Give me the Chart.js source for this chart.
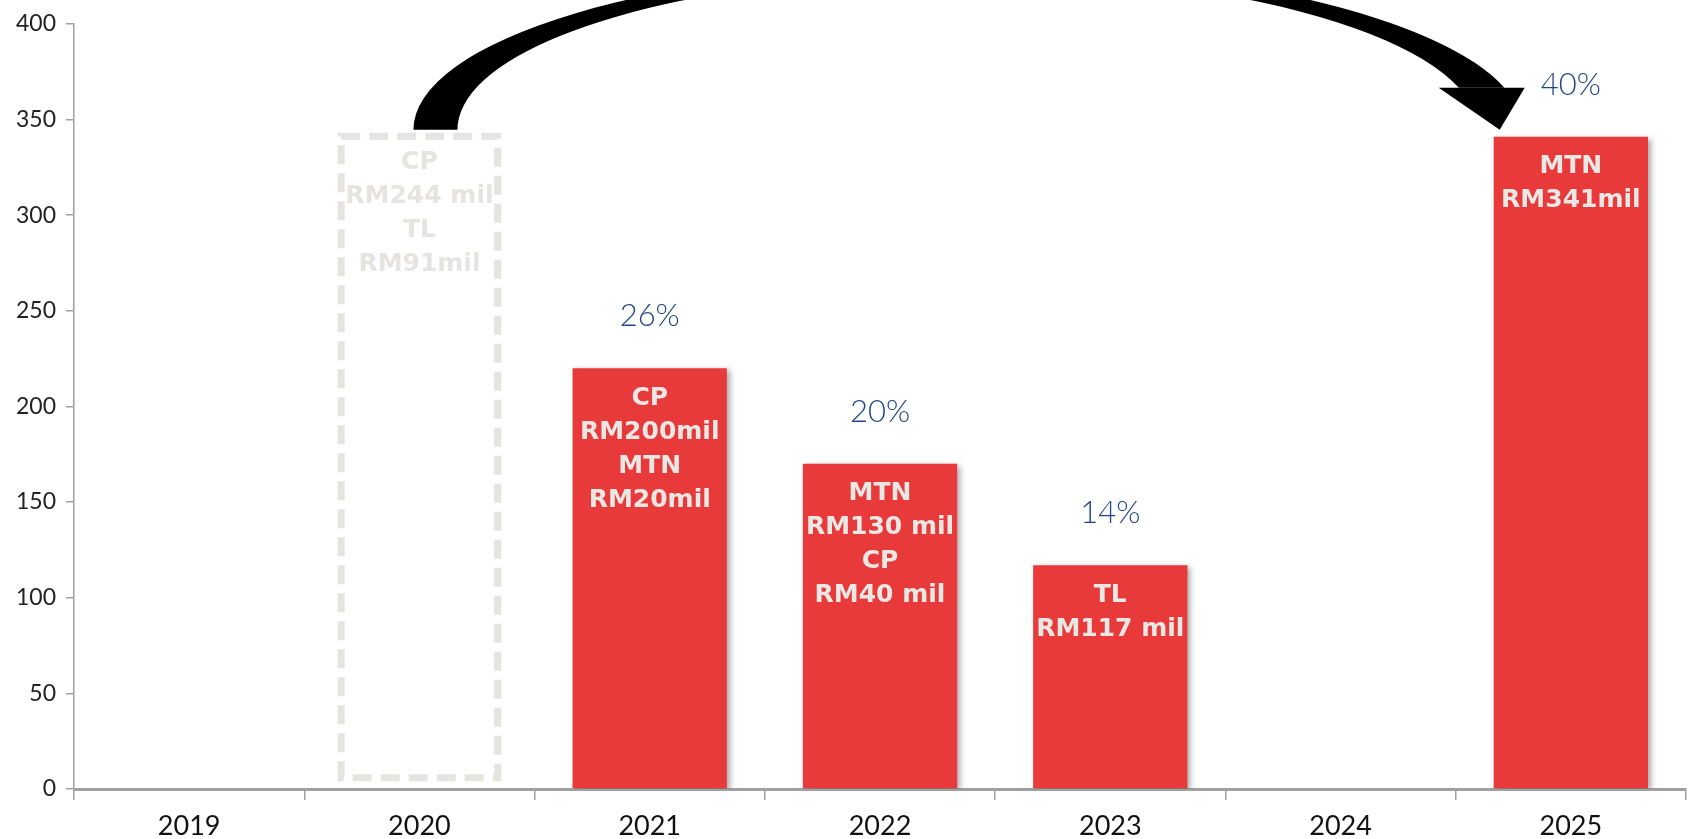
<!DOCTYPE html>
<html lang="en">

<head>
    <meta charset="UTF-8">
    <meta name="viewport" content="width=device-width, initial-scale=1.0">
    <title>Investment by year</title>
    <style>
        html, body { margin: 0; padding: 0; background: #fff; }
        .chart-box { width: 1692px; height: 839px; position: relative; }
    </style>
</head>

<body>
    <div class="chart-box">
        <canvas id="investChart"></canvas>
    </div>

    <script src="https://cdn.jsdelivr.net/npm/chart.js@4.4.4/dist/chart.umd.min.js"></script>
    <script>
        // data
        const years = ['2019', '2020', '2021', '2022', '2023', '2024', '2025'];
        const amounts = [null, null, 220, 170, 117, null, 341];
        const earlierPlan = [null, [4, 343], null, null, null, null, null];
        const amountLines = [
            null, null,
            ['CP', 'RM200mil', 'MTN', 'RM20mil'],
            ['MTN', 'RM130 mil', 'CP', 'RM40 mil'],
            ['TL', 'RM117 mil'],
            null,
            ['MTN', 'RM341mil']
        ];
        const earlierLines = [null, ['CP', 'RM244 mil', 'TL', 'RM91mil'], null, null, null, null, null];
        const shares = [null, null, '26%', '20%', '14%', null, '40%'];
        const yMin = 0, yMax = 400, yStep = 50;

        const RED = 'rgb(232, 58, 59)';
        const PALE = 'rgb(230, 228, 224)';
        const AXIS = '#a0a0a0';

        // soft shadow under the red bars
        const shadowPlugin = {
            id: 'barShadow',
            beforeDatasetDraw(chart, args) {
                if (args.index !== 0) return;
                const ctx = chart.ctx;
                ctx.save();
                ctx.shadowColor = 'rgba(0, 0, 0, 0.35)';
                ctx.shadowBlur = 6;
                ctx.shadowOffsetX = 3;
                ctx.shadowOffsetY = 2;
            },
            afterDatasetDraw(chart, args) {
                if (args.index !== 0) return;
                chart.ctx.restore();
            }
        };

        function drawLines(ctx, lines, x, top, color) {
            ctx.fillStyle = color;
            ctx.font = 'bold 25px "DejaVu Sans"';
            ctx.textAlign = 'center';
            ctx.textBaseline = 'middle';
            lines.forEach((t, i) => ctx.fillText(t, x, top + 30 + i * 34));
        }

        // dashed box, texts inside bars, percentages and the curved arrow
        const overlayPlugin = {
            id: 'overlay',
            afterDatasetsDraw(chart) {
                const ctx = chart.ctx;
                const ys = chart.scales.y;
                const redMeta = chart.getDatasetMeta(0);
                const planMeta = chart.getDatasetMeta(1);

                // dashed outline for the earlier plan
                planMeta.data.forEach((el, i) => {
                    if (!earlierPlan[i]) return;
                    const lw = 7;
                    const left = el.x - el.width / 2 + lw / 2;
                    const right = el.x + el.width / 2 - lw / 2;
                    const top = Math.min(el.y, el.base) + lw / 2;
                    const bottom = Math.max(el.y, el.base) - lw / 2;
                    ctx.save();
                    ctx.strokeStyle = PALE;
                    ctx.lineWidth = lw;
                    ctx.setLineDash([19, 9]);
                    ctx.strokeRect(left, top, right - left, bottom - top);
                    ctx.restore();
                    drawLines(ctx, earlierLines[i], el.x, top - lw / 2, PALE);
                });

                // texts in the red bars and the percentages above
                redMeta.data.forEach((el, i) => {
                    if (amounts[i] == null) return;
                    drawLines(ctx, amountLines[i], el.x, el.y, 'rgb(234, 232, 228)');
                    if (shares[i]) {
                        ctx.fillStyle = '#1f4682';
                        ctx.font = '300 31px Lato';
                        ctx.textAlign = 'center';
                        ctx.textBaseline = 'middle';
                        ctx.fillText(shares[i], el.x, el.y - 52);
                    }
                });

                // curved arrow from the 2020 plan to the 2025 bar
                const from = planMeta.data[1];
                const to = redMeta.data[6];
                const L = from.x;
                const R = to.x - to.width / 2;
                const baseY = ys.getPixelForValue(earlierPlan[1][1]) - 3;
                const headY = baseY - 42;

                const oL = L - 6, oR = R + 29;
                const iL = L + 38, iR = R - 16;
                const ocx = (oL + oR) / 2, oa = (oR - oL) / 2, ob = 165;
                const icx = (iL + iR) / 2, ia = (iR - iL) / 2, ib = 156;
                const oEnd = 2 * Math.PI - Math.asin((baseY - headY) / ob);
                const iEnd = 2 * Math.PI - Math.asin((baseY - headY) / ib);

                ctx.save();
                ctx.fillStyle = '#000';
                ctx.beginPath();
                ctx.ellipse(ocx, baseY, oa, ob, 0, Math.PI, oEnd, false);
                ctx.ellipse(icx, baseY, ia, ib, 0, iEnd, Math.PI, true);
                ctx.closePath();
                ctx.fill();

                ctx.beginPath();
                ctx.moveTo(R - 55, headY);
                ctx.lineTo(R + 31, headY);
                ctx.lineTo(R + 6, baseY);
                ctx.closePath();
                ctx.fill();
                ctx.restore();
            }
        };

        const investCtx = document.getElementById('investChart').getContext('2d');
        const investChart = new Chart(investCtx, {
            type: 'bar',
            data: {
                labels: years,
                datasets: [{
                    label: 'Investment',
                    data: amounts,
                    backgroundColor: RED,
                    borderWidth: 0,
                    grouped: false,
                    categoryPercentage: 1,
                    barPercentage: 0.67
                }, {
                    label: 'Earlier plan',
                    data: earlierPlan,
                    backgroundColor: 'rgba(0, 0, 0, 0)',
                    borderWidth: 0,
                    grouped: false,
                    categoryPercentage: 1,
                    barPercentage: 0.71
                }]
            },
            options: {
                responsive: true,
                maintainAspectRatio: false,
                animation: false,
                events: [],
                layout: {
                    padding: { top: 20, right: 6, left: 0, bottom: 0 }
                },
                plugins: {
                    legend: { display: false },
                    tooltip: { enabled: false }
                },
                scales: {
                    x: {
                        grid: {
                            offset: true,
                            drawOnChartArea: false,
                            tickLength: 11,
                            color: AXIS,
                            lineWidth: 1.5
                        },
                        border: { color: AXIS, width: 3 },
                        ticks: {
                            color: '#111',
                            font: { family: 'Lato', size: 27 },
                            padding: 10
                        },
                        afterFit(scale) { scale.height = 50; }
                    },
                    y: {
                        min: yMin,
                        max: yMax,
                        grid: {
                            drawOnChartArea: false,
                            tickLength: 8,
                            color: AXIS,
                            lineWidth: 1.5
                        },
                        border: { color: AXIS, width: 1.5 },
                        ticks: {
                            stepSize: yStep,
                            color: '#222',
                            font: { family: 'Lato', size: 23 },
                            padding: 10
                        },
                        afterFit(scale) { scale.width = 74; }
                    }
                }
            },
            plugins: [shadowPlugin, overlayPlugin]
        });
    </script>
</body>

</html>
